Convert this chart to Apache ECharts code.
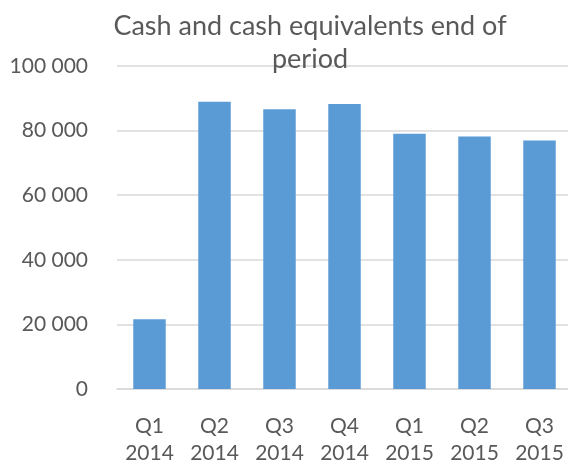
<!DOCTYPE html>
<html>
<head>
<meta charset="utf-8">
<script src="https://cdn.jsdelivr.net/npm/echarts@6/dist/echarts.min.js"></script>
<style>
  html, body { margin: 0; padding: 0; background: #fff; }
  #chart { width: 568px; height: 462px; }
</style>
</head>
<body>
<div id="chart"></div>
<script>
// ===== 数据 =====
const quarters = ['Q1\n2014', 'Q2\n2014', 'Q3\n2014', 'Q4\n2014', 'Q1\n2015', 'Q2\n2015', 'Q3\n2015']
const cashValues = [21600, 88900, 86600, 88200, 79000, 78200, 76900]
const yTicks = [0, 20000, 40000, 60000, 80000, 100000]

const textColor = '#595959'
const gridColor = '#d9d9d9'
const fontFamily = 'Lato, "Open Sans", sans-serif'

// 千位空格分隔
function formatThousands(v) {
  return String(v).replace(/\B(?=(\d{3})+(?!\d))/g, ' ')
}

const chart = echarts.init(document.getElementById('chart'))

chart.setOption({
  animation: false,
  title: {
    text: 'Cash and cash equivalents end of\nperiod',
    left: 305,
    top: 5,
    textAlign: 'center',
    textStyle: {
      color: textColor,
      fontFamily: fontFamily,
      fontSize: 27,
      fontWeight: 'normal',
      lineHeight: 33
    }
  },
  grid: {
    left: 117,
    right: -4,
    top: 66,
    bottom: 73,
    containLabel: false,
    outerBoundsMode: 'none'
  },
  xAxis: {
    type: 'category',
    data: quarters,
    axisLine: { show: true, lineStyle: { color: gridColor, width: 1.5 } },
    axisTick: { show: false },
    axisLabel: {
      color: textColor,
      fontFamily: fontFamily,
      fontSize: 21,
      lineHeight: 27,
      margin: 24
    }
  },
  yAxis: {
    type: 'value',
    min: yTicks[0],
    max: yTicks[yTicks.length - 1],
    interval: yTicks[1] - yTicks[0],
    axisLine: { show: false },
    axisTick: { show: false },
    axisLabel: {
      color: textColor,
      fontFamily: fontFamily,
      fontSize: 21,
      margin: 29,
      formatter: formatThousands
    },
    splitLine: { lineStyle: { color: gridColor, width: 1.5 } }
  },
  series: [
    {
      type: 'bar',
      data: cashValues,
      barCategoryGap: '50%',
      itemStyle: { color: '#5b9bd5' }
    }
  ]
})
</script>
</body>
</html>
